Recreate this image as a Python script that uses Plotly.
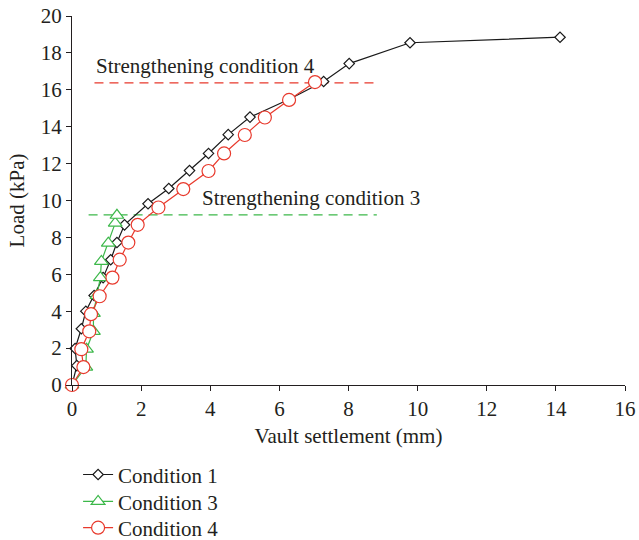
import plotly.graph_objects as go

# ---- data ----
c1_x = [0, 0.14, 0.09, 0.27, 0.40, 0.64, 0.90, 1.12, 1.30, 1.52, 2.20, 2.80, 3.40, 3.95, 4.52, 5.15, 6.30, 7.28, 8.02, 9.78, 14.12]
c1_y = [0, 1.05, 1.98, 3.05, 4.00, 4.85, 5.82, 6.79, 7.72, 8.68, 9.82, 10.65, 11.62, 12.55, 13.57, 14.52, 15.50, 16.45, 17.42, 18.55, 18.85]

c3_x = [0, 0.40, 0.42, 0.62, 0.62, 0.72, 0.82, 0.85, 1.05, 1.25, 1.30]
c3_y = [0, 0.97, 1.94, 2.91, 3.88, 4.85, 5.82, 6.70, 7.69, 8.77, 9.20]

c4_x = [0, 0.33, 0.27, 0.50, 0.55, 0.80, 1.17, 1.38, 1.63, 1.90, 2.50, 3.22, 3.95, 4.40, 5.00, 5.58, 6.28, 7.03]
c4_y = [0, 0.97, 1.94, 2.91, 3.84, 4.81, 5.82, 6.79, 7.72, 8.68, 9.62, 10.62, 11.60, 12.55, 13.55, 14.50, 15.45, 16.42]

ref4_x = [0.65, 8.87]
ref4_y = [16.38, 16.38]
ref3_x = [0.48, 8.82]
ref3_y = [9.22, 9.22]

x_ticks = [0, 2, 4, 6, 8, 10, 12, 14, 16]
y_ticks = [0, 2, 4, 6, 8, 10, 12, 14, 16, 18, 20]

BLACK = "#1a1a1a"
GREEN = "#3cb84a"
RED = "#e8392c"
TXT = "#231f20"
FONT = "Liberation Serif"

fig = go.Figure()

fig.add_trace(go.Scatter(x=ref4_x, y=ref4_y, mode="lines", showlegend=False,
                         line=dict(color=RED, width=1.2, dash="9px,6px"), hoverinfo="skip"))
fig.add_trace(go.Scatter(x=ref3_x, y=ref3_y, mode="lines", showlegend=False,
                         line=dict(color=GREEN, width=1.2, dash="9px,6px"), hoverinfo="skip"))

fig.add_trace(go.Scatter(x=c1_x, y=c1_y, mode="lines+markers", name="Condition 1",
                         line=dict(color=BLACK, width=1.2),
                         marker=dict(symbol="diamond", size=8, color="white",
                                     line=dict(color=BLACK, width=1.2)),
                         cliponaxis=False, legend="legend"))
fig.add_trace(go.Scatter(x=c3_x, y=c3_y, mode="lines+markers", name="Condition 3",
                         line=dict(color=GREEN, width=1.2),
                         marker=dict(symbol="triangle-up", size=12, color="white",
                                     line=dict(color=GREEN, width=1.2)),
                         cliponaxis=False, legend="legend2"))
fig.add_trace(go.Scatter(x=c4_x, y=c4_y, mode="lines+markers", name="Condition 4",
                         line=dict(color=RED, width=1.2),
                         marker=dict(symbol="circle", size=13, color="white",
                                     line=dict(color=RED, width=1.2)),
                         cliponaxis=False, legend="legend3"))

fig.add_annotation(x=0.65, y=17.3, xref="x", yref="y", text="Strengthening condition 4",
                   showarrow=False, xanchor="left", yanchor="middle",
                   font=dict(family=FONT, size=21, color=TXT))
fig.add_annotation(x=3.71, y=10.15, xref="x", yref="y", text="Strengthening condition 3",
                   showarrow=False, xanchor="left", yanchor="middle",
                   font=dict(family=FONT, size=21, color=TXT))

axis_common = dict(showgrid=False, zeroline=False, showline=True, linecolor=TXT, linewidth=1,
                   ticks="outside", ticklen=5, tickwidth=1, tickcolor=TXT,
                   tickfont=dict(family=FONT, size=21, color=TXT), mirror=False)

fig.update_xaxes(range=[0, 16], tickvals=x_ticks, ticktext=[str(v) for v in x_ticks],
                 title=dict(text="Vault settlement (mm)", font=dict(family=FONT, size=21, color=TXT), standoff=8),
                 **axis_common)
fig.update_yaxes(range=[0, 20], tickvals=y_ticks, ticktext=[str(v) for v in y_ticks],
                 title=dict(text="Load (kPa)", font=dict(family=FONT, size=21, color=TXT), standoff=10),
                 **axis_common)

leg_common = dict(x=0.011, xanchor="left", yanchor="top",
                  font=dict(family=FONT, size=21, color=TXT), bgcolor="rgba(0,0,0,0)")

fig.update_layout(
    width=639, height=540,
    margin=dict(l=71.5, r=14, t=16, b=155, autoexpand=False),
    plot_bgcolor="white", paper_bgcolor="white",
    font=dict(family=FONT, size=21, color=TXT),
    legend=dict(y=-0.188, **leg_common),
    legend2=dict(y=-0.261, **leg_common),
    legend3=dict(y=-0.332, **leg_common),
)

fig.write_html("out.html")
